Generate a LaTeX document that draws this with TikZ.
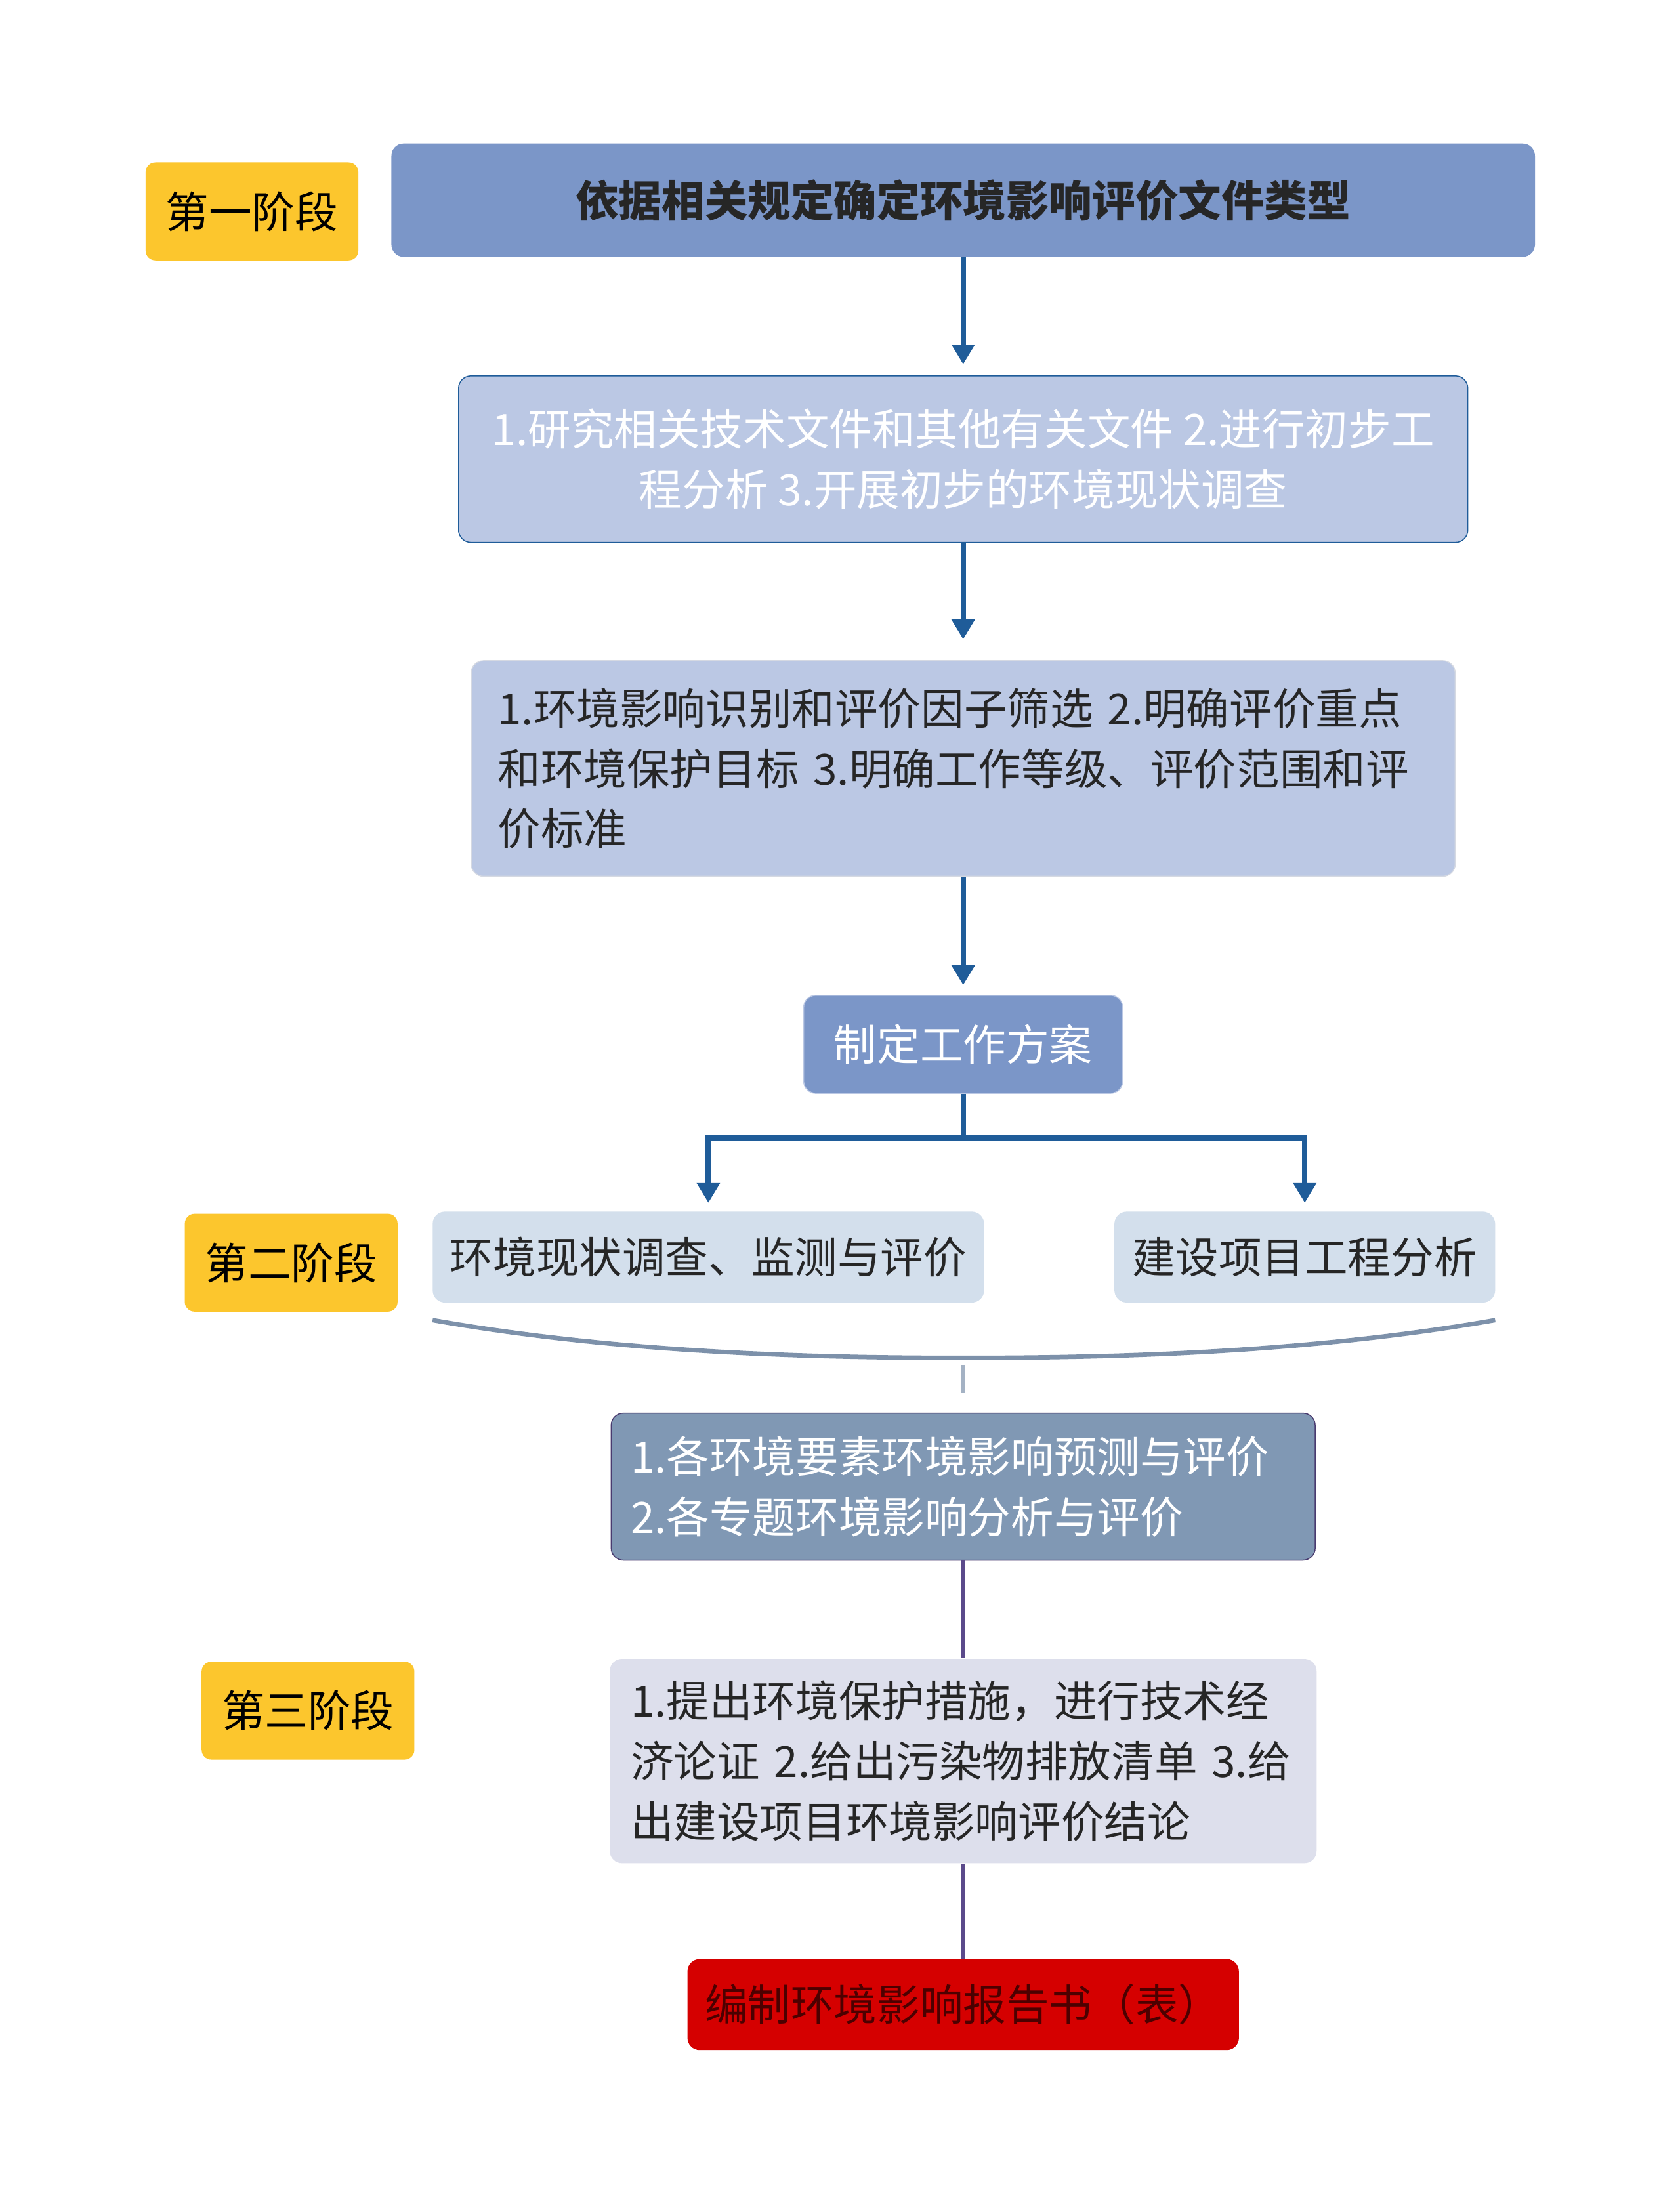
\documentclass[tikz,border=0pt]{standalone}
\usepackage{fontspec}
\setmainfont{Noto Sans CJK SC}
\usetikzlibrary{arrows.meta,positioning}
\definecolor{stageyellow}{RGB}{252,198,45}
\definecolor{darkblue}{RGB}{123,150,200}
\definecolor{midblue}{RGB}{187,200,228}
\definecolor{paleblue}{RGB}{211,223,236}
\definecolor{greyblue}{RGB}{128,152,180}
\definecolor{palelilac}{RGB}{221,223,236}
\definecolor{arrowblue}{RGB}{31,92,153}
\definecolor{linepurple}{RGB}{91,74,139}
\definecolor{bracegrey}{RGB}{125,145,170}
\definecolor{finalred}{RGB}{213,0,0}
\tikzset{>={Triangle[length=8pt,width=9pt]}}
\tikzset{%
    stagebox/.style={fill=stageyellow,rounded corners=4pt,minimum width=3.04cm,minimum height=1.4cm,font=\fontsize{17.5}{24}\selectfont},
    stepbox/.style={rounded corners=5pt,inner sep=0pt,align=left,font=\fontsize{17.5}{24.5}\selectfont,text=black!85},
    flow/.style={->,line width=2.2pt,draw=arrowblue},
    linkline/.style={line width=1.6pt,draw=linepurple}
}
\begin{document}
\begin{tikzpicture}[x=0.02cm,y=-0.02cm]
    \useasboundingbox[fill=white] (0,0) rectangle (1200,1568);
    % stages
    \node[stagebox](S1) at (180,151) {第一阶段};
    \node[stagebox](S2) at (208,902) {第二阶段};
    \node[stagebox](S3) at (220,1222) {第三阶段};
    % main column
    \node[stepbox,fill=darkblue,minimum width=16.34cm,minimum height=1.62cm,align=center,font=\fontsize{17.5}{24}\selectfont\bfseries](A) at (688,143) {依据相关规定确定环境影响评价文件类型};
    \node[stepbox,fill=midblue,draw=arrowblue,minimum width=14.42cm,minimum height=2.38cm,align=center,text=white](B) at (688,328) {1.研究相关技术文件和其他有关文件 2.进行初步工\\程分析 3.开展初步的环境现状调查};
    \node[stepbox,fill=midblue,draw=midblue!80!black!40,minimum width=14.06cm,minimum height=3.08cm,text width=13.3cm](C) at (688,549) {1.环境影响识别和评价因子筛选 2.明确评价重点\\和环境保护目标 3.明确工作等级、评价范围和评\\价标准};
    \node[stepbox,fill=darkblue,draw=midblue,minimum width=4.56cm,minimum height=1.4cm,align=center,text=white](D) at (688,746) {制定工作方案};
    \node[stepbox,fill=paleblue,minimum width=7.88cm,minimum height=1.3cm,align=center](E) at (506,898) {环境现状调查、监测与评价};
    \node[stepbox,fill=paleblue,minimum width=5.44cm,minimum height=1.3cm,align=center](F) at (932,898) {建设项目工程分析};
    \node[stepbox,fill=greyblue,draw=linepurple!80!black,minimum width=10.06cm,minimum height=2.1cm,text width=9.5cm,text=white](G) at (688,1062) {1.各环境要素环境影响预测与评价\\2.各专题环境影响分析与评价};
    \node[stepbox,fill=palelilac,minimum width=10.1cm,minimum height=2.92cm,text width=9.5cm](H) at (688,1258) {1.提出环境保护措施，进行技术经\\济论证 2.给出污染物排放清单 3.给\\出建设项目环境影响评价结论};
    \node[stepbox,fill=finalred,minimum width=7.88cm,minimum height=1.3cm,align=center,text=red!30!black](I) at (688,1432) {编制环境影响报告书（表）};
    % connectors
    \draw[flow] (A) -- ([yshift=0.16cm]B.north);
    \draw[flow] (B) -- ([yshift=0.3cm]C.north);
    \draw[flow] (C) -- ([yshift=0.14cm]D.north);
    \coordinate (split) at (688,813);
    \draw[line width=2.2pt,draw=arrowblue] (D) -- (split);
    \draw[flow] (split) -| ([yshift=0.12cm]E.north);
    \draw[flow] (split) -| ([yshift=0.12cm]F.north);
    \draw[line width=1.8pt,bracegrey] (309,943) .. controls (450,968) and (600,970) .. (688,970)
        .. controls (776,970) and (926,968) .. (1068,943);
    \coordinate (brace) at (688,975);
    \draw[line width=1.4pt,bracegrey!70] (brace) -- (688,995);
    \draw[linkline] (G) -- (H);
    \draw[linkline] (H) -- (I);
\end{tikzpicture}
\end{document}
